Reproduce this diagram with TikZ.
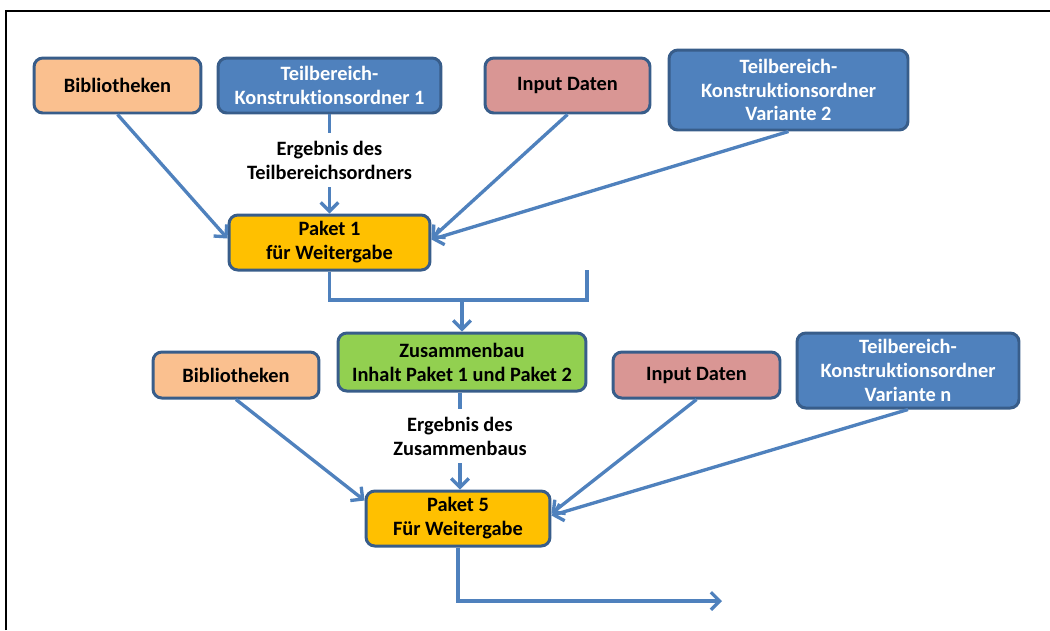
\documentclass[tikz,border=0pt]{standalone}
\usepackage{fontspec}
\setmainfont{Carlito}[Ligatures=NoCommon]
\usetikzlibrary{arrows.meta,calc}
\definecolor{bord}{HTML}{385D8A}
\definecolor{arr}{HTML}{4F81BD}
\definecolor{cblue}{HTML}{4F81BD}
\definecolor{corange}{HTML}{FAC08F}
\definecolor{cred}{HTML}{D99694}
\definecolor{cyellow}{HTML}{FFC000}
\definecolor{cgreen}{HTML}{92D050}
\tikzset{
  box/.style={draw=bord, line width=1.7pt, rounded corners=5pt, align=center,
    inner sep=0pt, font=\fontsize{11.6}{13.6}\selectfont\bfseries},
  bluebox/.style={box, fill=cblue, text=white},
  orbox/.style={box, fill=corange},
  redbox/.style={box, fill=cred},
  yelbox/.style={box, fill=cyellow},
  grnbox/.style={box, fill=cgreen},
  lbl/.style={align=center, inner xsep=0pt, inner ysep=4.5pt, font=\fontsize{11.6}{13.6}\selectfont\bfseries},
  conn/.style={draw=arr, line width=1.9pt},
  arrow/.style={conn, -{Straight Barb[length=5pt,width=10pt,line width=1.9pt]}}
}
\begin{document}
\begin{tikzpicture}[x=0.02cm, y=-0.02cm]
\useasboundingbox (0,0) rectangle (1050,630);
\draw[black, line width=0.8pt] (6,630) -- (6,11) -- (1050,11);

% top row
\node[orbox, minimum width=3.34cm, minimum height=1.10cm] (bib1) at (117.5,85.5) {Bibliotheken};
\node[bluebox, minimum width=4.46cm, minimum height=1.10cm] (tk1) at (329.5,85.5) {Teilbereich-\\Konstruktionsordner 1};
\node[redbox, minimum width=3.30cm, minimum height=1.10cm] (in1) at (567.5,85.5) {Input Daten};
\node[bluebox, minimum width=4.78cm, minimum height=1.60cm] (tk2) at (788.5,90) {Teilbereich-\\Konstruktionsordner\\Variante 2};
\node[lbl] (lab1) at (329.5,160) {Ergebnis des\\Teilbereichsordners};
\node[yelbox, minimum width=4.02cm, minimum height=1.10cm] (p1) at (329.5,242.5) {Paket 1\\für Weitergabe};

% middle
\node[grnbox, minimum width=4.96cm, minimum height=1.16cm] (zus) at (462,362) {Zusammenbau\\Inhalt Paket 1 und Paket 2};
\node[orbox, minimum width=3.32cm, minimum height=0.92cm] (bib2) at (236,375) {Bibliotheken};
\node[redbox, minimum width=3.34cm, minimum height=0.92cm] (in2) at (696.5,375) {Input Daten};
\node[bluebox, minimum width=4.44cm, minimum height=1.50cm] (tkn) at (908,370.5) {Teilbereich-\\Konstruktionsordner\\Variante n};
\node[lbl] (lab2) at (460,436) {Ergebnis des\\Zusammenbaus};
\node[yelbox, minimum width=3.68cm, minimum height=1.10cm] (p5) at (458,518.5) {Paket 5\\Für Weitergabe};

\coordinate (forkR) at (587,300);
\coordinate (forkRtop) at (587,270);
\coordinate (out) at (722,601);

% connectors top
\draw[conn] (tk1) -- (lab1);
\draw[arrow] (lab1) -- (p1);
\draw[arrow] (bib1.south) -- ($(p1.west)+(0,-4)$);
\draw[arrow] (in1.south) -- ($(p1.east)+(0,-4)$);
\draw[arrow] (tk2.south) -- ($(p1.east)+(0,-3)$);

% fork
\draw[conn] (p1.south) |- (forkR) -- (forkRtop);
\draw[arrow] (zus.north |- forkR) -- (zus.north);

% connectors bottom
\draw[conn] (lab2 |- zus.south) -- (lab2);
\draw[arrow] (lab2) -- (lab2 |- p5.north);
\draw[arrow] (bib2.south) -- ($(p5.west)+(0,-18)$);
\draw[arrow] (in2.south) -- ($(p5.east)+(0,-5)$);
\draw[arrow] (tkn.south) -- ($(p5.east)+(0,-3)$);
\draw[arrow] (p5.south) |- (out);
\end{tikzpicture}
\end{document}
